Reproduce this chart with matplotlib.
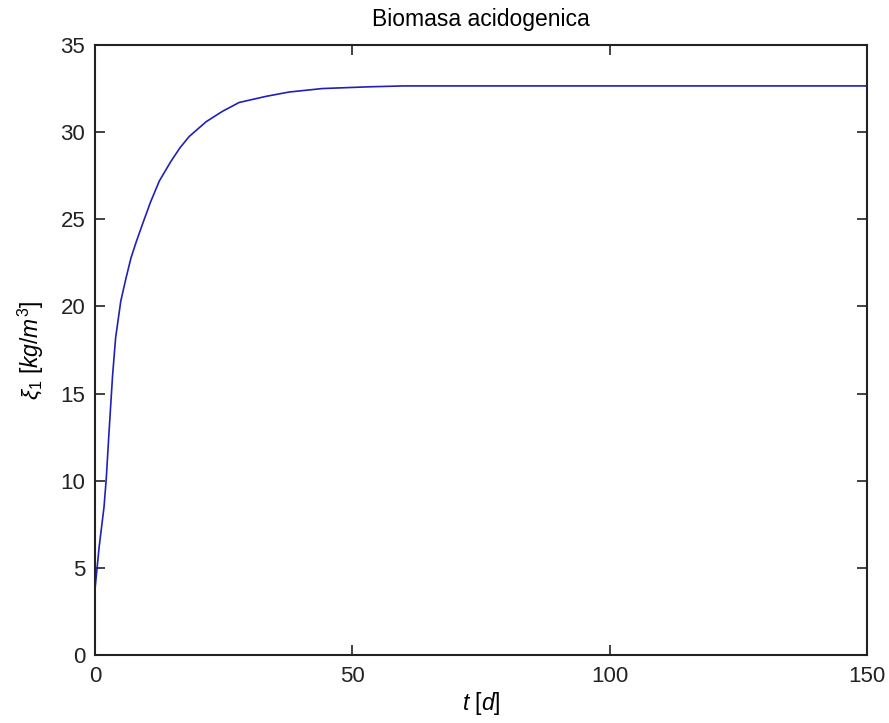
import matplotlib
matplotlib.use("Agg")
import matplotlib.pyplot as plt

# values
t = [0, 0.8, 1.75, 2.2, 2.7, 3.4, 4.0, 5.0, 6.0, 7.0, 8.0, 9.2, 10.8, 12.5,
     14.7, 16.5, 18.3, 21.6, 24.8, 28.0, 33.2, 37.7, 44.2, 53.3, 60, 80, 100, 120, 150]
xi1 = [3.8, 6.2, 8.5, 10.2, 12.7, 16.0, 18.2, 20.3, 21.6, 22.8, 23.7, 24.7, 26.0, 27.2,
       28.3, 29.1, 29.75, 30.6, 31.2, 31.7, 32.05, 32.3, 32.5, 32.6, 32.65, 32.65, 32.65,
       32.65, 32.65]
xticks = [0, 50, 100, 150]
yticks = [0, 5, 10, 15, 20, 25, 30, 35]

plt.rcParams['font.family'] = ['Liberation Sans', 'DejaVu Sans']
plt.rcParams['mathtext.fontset'] = 'custom'
plt.rcParams['mathtext.rm'] = 'Liberation Sans'
plt.rcParams['mathtext.it'] = 'Liberation Sans:italic'

fig = plt.figure(figsize=(8.89, 7.23), dpi=100)
ax = fig.add_axes([0.1069, 0.0941, 0.8684, 0.8437])

ax.plot(t, xi1, color='#2020b8', lw=1.2)

ax.set_xlim(0, 150)
ax.set_ylim(0, 35)
ax.set_xticks(xticks)
ax.set_yticks(yticks)
ax.tick_params(direction='in', length=7, width=1.2, top=True, right=True,
               labelsize=16, colors='#222222')
ax.tick_params(axis='x', pad=8)
ax.tick_params(axis='y', pad=7)
for s in ax.spines.values():
    s.set_linewidth(1.5)
    s.set_color('#222222')

ax.set_title('Biomasa acidogenica', fontsize=16.5, pad=14)
ax.set_xlabel(r'$t\ [d]$', fontsize=16.5)
ax.set_ylabel(r'$\xi_1\ [kg/m^3]$', fontsize=16.5)
ax.xaxis.set_label_coords(0.5, -0.058)
ax.yaxis.set_label_coords(-0.063, 0.5)

fig.savefig('out.png', dpi=100)
